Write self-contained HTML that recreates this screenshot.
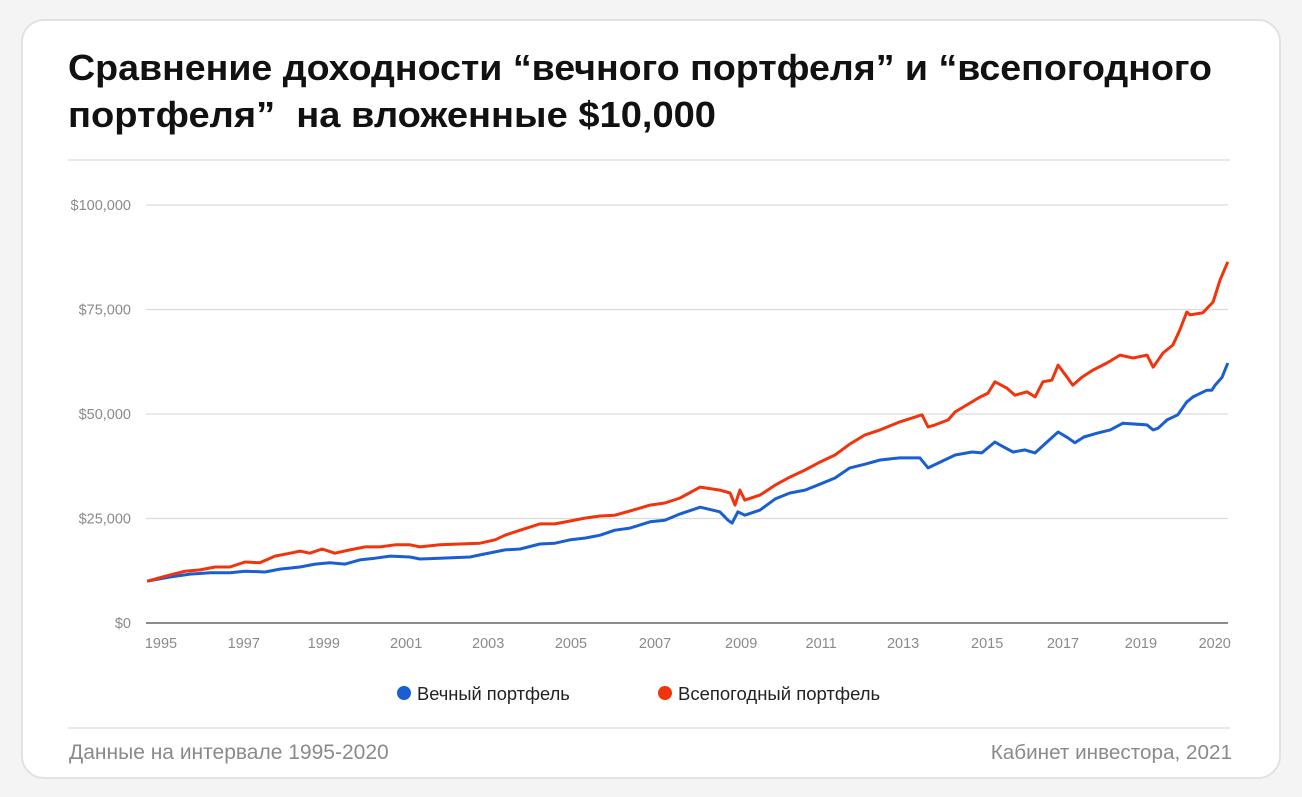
<!DOCTYPE html>
<html><head><meta charset="utf-8"><style>
html,body{margin:0;padding:0;background:#f4f4f4;}
body{width:1302px;height:797px;overflow:hidden;font-family:"Liberation Sans",sans-serif;}
</style></head><body>
<svg id="chart" width="1302" height="797" xmlns="http://www.w3.org/2000/svg" style="display:block">
<rect x="22" y="20" width="1258" height="758" rx="22" fill="#fff" stroke="#e2e2e2" stroke-width="2"/>
<text x="68" y="80" font-size="36" font-weight="bold" fill="#111" textLength="1144" lengthAdjust="spacingAndGlyphs">Сравнение доходности “вечного портфеля” и “всепогодного</text>
<text x="68" y="127" font-size="36" font-weight="bold" fill="#111" textLength="648" lengthAdjust="spacingAndGlyphs">портфеля”&#160; на вложенные $10,000</text>
<line x1="68" y1="160" x2="1230" y2="160" stroke="#e0e0e0" stroke-width="1.5"/>
<g id="grid"></g><g id="xlabels"></g><g id="series"></g>
<g>
<circle cx="404" cy="693" r="7" fill="#1a5fd0"/>
<text x="417" y="700" font-size="18.3" fill="#222">Вечный портфель</text>
<circle cx="665" cy="693" r="7" fill="#f0340e"/>
<text x="678" y="700" font-size="18.5" fill="#222">Всепогодный портфель</text>
</g>
<line x1="68" y1="728" x2="1230" y2="728" stroke="#e0e0e0" stroke-width="1.5"/>
<text x="69" y="759" font-size="21" fill="#8a8a8a">Данные на интервале 1995-2020</text>
<text x="1232" y="759" font-size="20.7" fill="#8a8a8a" text-anchor="end">Кабинет инвестора, 2021</text>
</svg>
<script>
const yTicks=[0,25000,50000,75000,100000];
const yTickLabels=["$0","$25,000","$50,000","$75,000","$100,000"];
const xTickLabels=["1995","1997","1999","2001","2003","2005","2007","2009","2011","2013","2015","2017","2019","2020"];
const xTickYears=[1995,1997.02,1998.97,2000.98,2002.98,2005.0,2007.05,2009.15,2011.1,2013.1,2015.15,2017.0,2018.9,2020.7];
const allWeatherYears=[1994.66,1995.22,1995.59,1995.95,1996.32,1996.68,1997.05,1997.41,1997.78,1998.15,1998.39,1998.63,1998.93,1999.24,1999.61,1999.98,2000.34,2000.71,2001.07,2001.32,2001.80,2002.29,2002.78,2003.15,2003.39,2003.76,2004.24,2004.61,2004.98,2005.34,2005.71,2006.07,2006.44,2006.93,2007.29,2007.66,2008.15,2008.63,2008.88,2009.0,2009.12,2009.24,2009.61,2009.98,2010.34,2010.71,2011.07,2011.44,2011.80,2012.17,2012.54,2013.02,2013.56,2013.71,2013.88,2014.20,2014.37,2014.73,2014.93,2015.17,2015.34,2015.63,2015.83,2016.12,2016.32,2016.51,2016.73,2016.88,2017.10,2017.24,2017.46,2017.73,2018.07,2018.39,2018.71,2019.05,2019.20,2019.44,2019.68,2019.85,2020.02,2020.10,2020.41,2020.66,2020.83,2021.02];
const allWeatherValues=[10.0,11.5,12.4,12.7,13.4,13.4,14.6,14.4,16.0,16.7,17.2,16.7,17.7,16.7,17.5,18.2,18.2,18.7,18.7,18.2,18.7,18.9,19.1,19.9,21.0,22.2,23.7,23.7,24.4,25.1,25.6,25.8,26.8,28.2,28.7,29.9,32.5,31.8,31.1,28.2,31.8,29.4,30.6,33.0,34.9,36.6,38.5,40.2,42.8,45.0,46.2,48.1,49.8,46.9,47.4,48.6,50.5,52.6,53.8,55.0,57.7,56.2,54.5,55.3,54.1,57.7,58.1,61.7,58.8,56.9,58.8,60.5,62.2,64.1,63.4,64.1,61.2,64.6,66.5,70.1,74.4,73.7,74.2,76.8,82.0,86.4];
const eternalYears=[1994.66,1995.22,1995.71,1996.20,1996.68,1997.05,1997.54,1997.90,1998.39,1998.76,1999.12,1999.49,1999.85,2000.22,2000.59,2001.07,2001.32,2001.80,2002.54,2002.78,2003.15,2003.39,2003.76,2004.24,2004.61,2004.98,2005.34,2005.71,2006.07,2006.44,2006.93,2007.29,2007.66,2008.15,2008.63,2008.83,2008.93,2009.07,2009.24,2009.61,2009.98,2010.34,2010.71,2011.07,2011.44,2011.80,2012.17,2012.54,2013.02,2013.51,2013.71,2014.37,2014.78,2015.02,2015.34,2015.46,2015.78,2016.07,2016.32,2016.61,2016.88,2017.12,2017.29,2017.51,2017.83,2018.15,2018.46,2019.05,2019.20,2019.32,2019.54,2019.80,2020.02,2020.17,2020.51,2020.63,2020.71,2020.88,2021.02];
const eternalValues=[10.0,11.0,11.7,12.0,12.0,12.4,12.2,12.9,13.4,14.1,14.4,14.1,15.1,15.5,16.0,15.8,15.3,15.5,15.8,16.3,17.0,17.5,17.7,18.9,19.1,19.9,20.3,21.0,22.2,22.7,24.2,24.6,26.1,27.7,26.6,24.6,23.9,26.6,25.8,27.0,29.7,31.1,31.8,33.2,34.7,37.1,38.0,39.0,39.5,39.5,37.1,40.2,40.9,40.7,43.3,42.6,40.9,41.4,40.7,43.3,45.7,44.3,43.1,44.5,45.4,46.2,47.8,47.4,46.2,46.6,48.6,49.8,52.9,54.1,55.7,55.7,56.9,58.8,62.2];

const NS="http://www.w3.org/2000/svg";
const X=t=>161+(t-1995)*41;
const Y=v=>623-v/25000*104.5;
const grid=document.getElementById('grid');
yTicks.forEach((v,i)=>{
  const l=document.createElementNS(NS,'line');
  
  
  l.setAttribute('x1',146);l.setAttribute('x2',1228);
  l.setAttribute('y1',Y(v));l.setAttribute('y2',Y(v));
  l.setAttribute('stroke',v===0?'#8c8c8c':'#dcdcdc');
  l.setAttribute('stroke-width',v===0?2:1.2);
  grid.appendChild(l);
  const t=document.createElementNS(NS,'text');
  
  
  t.setAttribute('x',131);t.setAttribute('y',Y(v)+5);
  t.setAttribute('text-anchor','end');t.setAttribute('font-size','14.5');t.setAttribute('fill','#8a8a8a');
  t.textContent=yTickLabels[i];grid.appendChild(t);
});
const xl=document.getElementById('xlabels');
xTickLabels.forEach((s,i)=>{
  const t=document.createElementNS(NS,'text');
  
  
  t.setAttribute('x',X(xTickYears[i]));t.setAttribute('y',648);
  t.setAttribute('text-anchor','middle');t.setAttribute('font-size','14.5');t.setAttribute('fill','#8a8a8a');
  t.textContent=s;xl.appendChild(t);
});
const sg=document.getElementById('series');
function draw(years,vals,color,name){
  const p=document.createElementNS(NS,'path');
  
  
  p.setAttribute('d',years.map((t,i)=>(i?'L':'M')+X(t).toFixed(1)+' '+Y(vals[i]*1000).toFixed(1)).join(' '));
  p.setAttribute('fill','none');p.setAttribute('stroke',color);
  p.setAttribute('stroke-width','3');p.setAttribute('stroke-linejoin','round');
  sg.appendChild(p);
}
draw(eternalYears,eternalValues,'#1a5fd0','eternal-portfolio-line');
draw(allWeatherYears,allWeatherValues,'#f0340e','all-weather-portfolio-line');
</script>
</body></html>
